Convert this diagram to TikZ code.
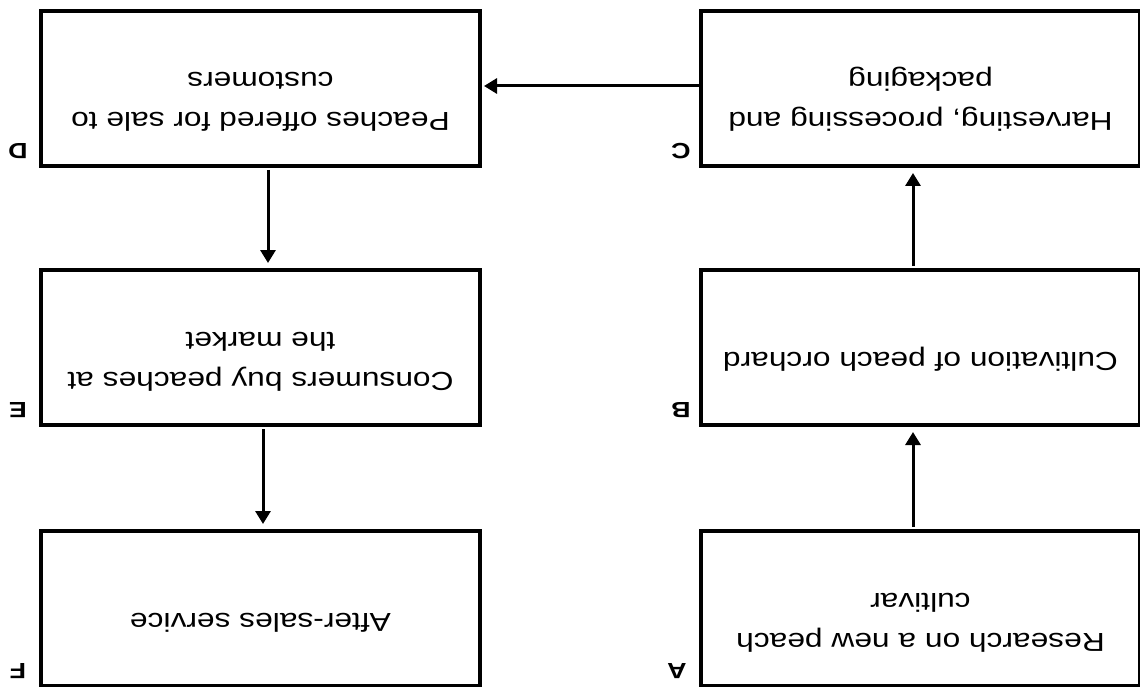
\documentclass[tikz,border=0pt]{standalone}
\usepackage{fontspec}
\setmainfont[FakeStretch=1.22]{Liberation Sans}
\newfontfamily\tagfont[FakeStretch=1.22]{Liberation Sans Bold}
\usepackage{graphicx}
\usetikzlibrary{arrows.meta}

\newcommand{\flip}[1]{\rotatebox[origin=c]{180}{\raisebox{0pt}[\height][\dimexpr\depth+25pt\relax]{\begin{tabular}{@{}c@{}}#1\end{tabular}}}}

\begin{document}
\begin{tikzpicture}[x=1pt,y=-1pt,
    box/.style={draw,line width=4pt,minimum width=439pt,minimum height=155pt,inner sep=0pt,font=\fontsize{26}{40}\selectfont},
    lettertag/.style={rotate=180,inner sep=0pt,font=\tagfont\fontsize{22}{26}\selectfont},
    arr/.style={line width=3pt,-{Triangle[width=15pt,length=13pt]},shorten >=5pt,shorten <=2pt}]
  \useasboundingbox (0,0) rectangle (1140,687);
  \node[box] (D) at (260.5,88.5) {\flip{Peaches offered for sale to\\customers}};
  \node[box] (C) at (920.5,88.5) {\flip{Harvesting, processing and\\packaging}};
  \node[box] (E) at (260.5,347.5) {\flip{Consumers buy peaches at\\the market}};
  \node[box] (B) at (920.5,347.5) {\flip{Cultivation of peach orchard}};
  \node[box] (F) at (260.5,608.5) {\flip{After-sales service}};
  \node[box] (A) at (920.5,608.5) {\flip{Research on a new peach\\cultivar}};
  \node[lettertag] (tagD) at ([xshift=-21pt,yshift=17pt]D.south west) {D};
  \node[lettertag] (tagC) at ([xshift=-18pt,yshift=17pt]C.south west) {C};
  \node[lettertag] (tagE) at ([xshift=-21pt,yshift=17pt]E.south west) {E};
  \node[lettertag] (tagB) at ([xshift=-18pt,yshift=17pt]B.south west) {B};
  \node[lettertag] (tagF) at ([xshift=-21pt,yshift=17pt]F.south west) {F};
  \node[lettertag] (tagA) at ([xshift=-22pt,yshift=17pt]A.south west) {A};
  \draw[arr] ([xshift=7.5pt]D.south) -- ([xshift=7.5pt]E.north);
  \draw[arr] ([xshift=2.5pt]E.south) -- ([xshift=2.5pt]F.north);
  \draw[arr] ([xshift=-7.5pt]A.north) -- ([xshift=-7.5pt]B.south);
  \draw[arr] ([xshift=-7.5pt]B.north) -- ([xshift=-7.5pt]C.south);
  \draw[arr,shorten >=2pt,shorten <=0pt] ([yshift=2.5pt]C.west) -- ([yshift=2.5pt]D.east);
\end{tikzpicture}
\end{document}
